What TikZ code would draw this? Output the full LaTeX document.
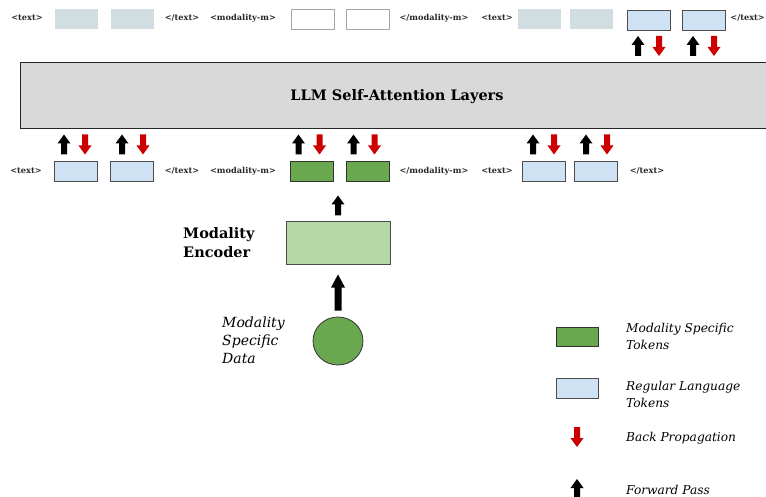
\documentclass[tikz,border=0pt]{standalone}
\usepackage{fontspec}
\setmainfont{DejaVu Serif}
\usetikzlibrary{shapes.geometric}
\definecolor{fadetok}{HTML}{D0DEE2}
\definecolor{bluetok}{HTML}{CFE2F3}
\definecolor{greentok}{HTML}{6AA84F}
\definecolor{enccol}{HTML}{B6D7A8}
\definecolor{llmgray}{HTML}{D9D9D9}
\definecolor{redarr}{HTML}{CC0000}
\definecolor{tagcol}{HTML}{262626}
\tikzset{
  tok/.style={minimum width=43pt, minimum height=20pt, inner sep=0pt},
  fadebox/.style={tok, fill=fadetok},
  whitebox/.style={tok, draw=gray!70, line width=0.7pt, fill=white},
  bluebox/.style={tok, draw=black!70, line width=0.9pt, fill=bluetok},
  greenbox/.style={tok, draw=black!80, line width=0.9pt, fill=greentok},
  tag/.style={font=\bfseries\fontsize{8.2}{9}\selectfont, text=tagcol, inner sep=0pt},
  legtext/.style={font=\itshape\fontsize{12.2}{17}\selectfont, align=left, anchor=west, inner sep=0pt},
  pics/uparr/.style={code={\fill[black] (-3,10) -- (-3,-1) -- (-6.5,-1) -- (0,-10) -- (6.5,-1) -- (3,-1) -- (3,10) -- cycle;}},
  pics/downarr/.style={code={\fill[redarr] (-3,-10) -- (-3,1) -- (-6.5,1) -- (0,10) -- (6.5,1) -- (3,1) -- (3,-10) -- cycle;}},
  pics/bigup/.style={code={\fill[black] (-3.5,18) -- (-3.5,-5) -- (-7,-5) -- (0,-18) -- (7,-5) -- (3.5,-5) -- (3.5,18) -- cycle;}},
  pics/fbpair/.style={code={\pic at (-10.5,0) {uparr}; \pic at (10.5,0) {downarr};}}
}
\begin{document}
\begin{tikzpicture}[x=1pt,y=-1pt]
\useasboundingbox (0,0) rectangle (766,497);
% ---------- top row ----------
\node[tag] (t1) at (27,18) {<text>};
\node[fadebox] (a1) at (76.5,19) {};
\node[fadebox] (a2) at (132,19) {};
\node[tag] (t2) at (182,18) {</text>};
\node[tag] (t3) at (243,18) {<modality-m>};
\node[whitebox] (a3) at (313,19.5) {};
\node[whitebox] (a4) at (368,19.5) {};
\node[tag] (t4) at (434,18) {</modality-m>};
\node[tag] (t5) at (497,18) {<text>};
\node[fadebox] (a5) at (539.5,19.5) {};
\node[fadebox] (a6) at (591.5,19.5) {};
\node[bluebox] (a7) at (648.5,20) {};
\node[bluebox] (a8) at (703.5,20) {};
\node[tag, anchor=east] (t6) at (765,18) {</text>};
\pic at (648.5,46) {fbpair};
\pic at (703.5,46) {fbpair};
% ---------- LLM ----------
\node[draw=black!85, line width=1pt, fill=llmgray, minimum width=760pt, minimum height=66pt, anchor=north west, inner sep=0pt] (llm) at (20,62) {};
\node[font=\bfseries\fontsize{14.5}{16}\selectfont] (llmt) at (397,97) {LLM Self-Attention Layers};
% ---------- bottom row ----------
\pic at (74.5,144.5) {fbpair};
\pic at (132.5,144.5) {fbpair};
\pic at (309,144.5) {fbpair};
\pic at (364,144.5) {fbpair};
\pic at (543.5,144.5) {fbpair};
\pic at (596.5,144.5) {fbpair};
\node[tag] (b1) at (26,171) {<text>};
\node[bluebox] (c1) at (76,171.5) {};
\node[bluebox] (c2) at (131.5,171.5) {};
\node[tag] (b2) at (182,171) {</text>};
\node[tag] (b3) at (243,171) {<modality-m>};
\node[greenbox] (c3) at (312,171) {};
\node[greenbox] (c4) at (368,171) {};
\node[tag] (b4) at (434,171) {</modality-m>};
\node[tag] (b5) at (497,171) {<text>};
\node[bluebox] (c5) at (544,171.5) {};
\node[bluebox] (c6) at (596,171.5) {};
\node[tag] (b6) at (647,171) {</text>};
% ---------- encoder ----------
\pic at (338,205.5) {uparr};
\node[draw=black!70, line width=0.7pt, fill=enccol, minimum width=104pt, minimum height=43pt, inner sep=0pt] (enc) at (338,242.5) {};
\node[font=\bfseries\fontsize{14.5}{19}\selectfont, align=left, anchor=west, inner sep=0pt] (enct) at (183,242.5) {Modality\\Encoder};
\pic at (338,292.5) {bigup};
\node[ellipse, draw=black!80, line width=0.8pt, fill=greentok, minimum width=50pt, minimum height=48pt, inner sep=0pt] (data) at (338,341) {};
\node[font=\itshape\fontsize{14}{18}\selectfont, align=left, anchor=west, inner sep=0pt] (datat) at (222,340) {Modality\\Specific\\Data};
% ---------- legend ----------
\node[greenbox, minimum width=42pt, minimum height=19pt] (lg1) at (577,336.5) {};
\node[legtext] (lt1) at (626,336.5) {Modality Specific\\Tokens};
\node[bluebox, minimum width=42pt, minimum height=20pt] (lg2) at (577,388) {};
\node[legtext] (lt2) at (626,394.5) {Regular Language\\Tokens};
\pic at (577,437) {downarr};
\node[legtext] (lt3) at (626,438) {Back Propagation};
\pic at (577,489) {uparr};
\node[legtext] (lt4) at (626,490) {Forward Pass};
\end{tikzpicture}
\end{document}
